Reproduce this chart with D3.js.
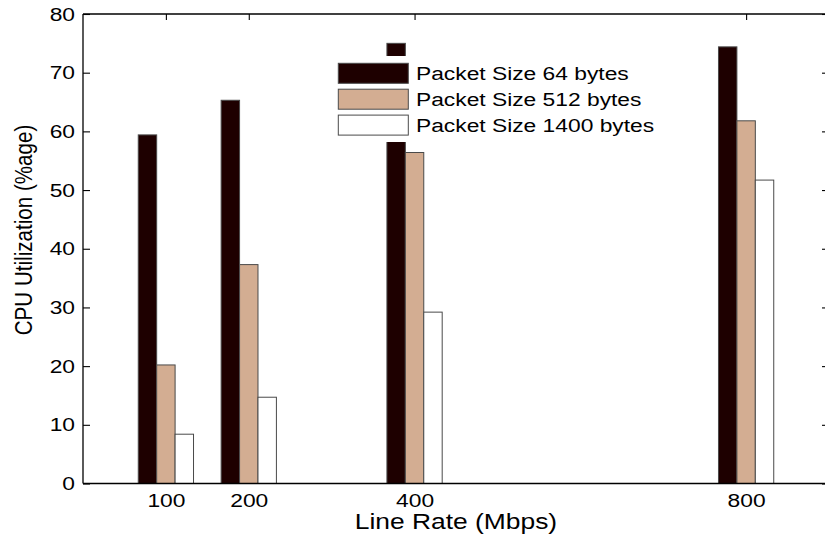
<!DOCTYPE html>
<html><head><meta charset="utf-8">
<script src="https://cdn.jsdelivr.net/npm/d3@7"></script>
<style>
body{margin:0;background:#fff}
svg{display:block}
text{font-family:"Liberation Sans",Arial,Helvetica,sans-serif;fill:#000}
</style>
</head><body>
<svg id="chart" width="825" height="539"></svg>
<script>
// ---- data ----
const lineRates = [100, 200, 400, 800];
const seriesNames = ["Packet Size 64 bytes", "Packet Size 512 bytes", "Packet Size 1400 bytes"];
const cpu64 = [59.4, 65.3, 75.0, 74.4];
const cpu512 = [20.2, 37.3, 56.4, 61.8];
const cpu1400 = [8.4, 14.7, 29.2, 51.7];
const yTickValues = [0, 10, 20, 30, 40, 50, 60, 70, 80];
const xTickValues = [100, 200, 400, 800];
const seriesColors = ["#1e0000", "#d3ad92", "#ffffff"];
const xTitle = "Line Rate (Mbps)";
const yTitle = "CPU Utilization (%age)";

const allSeries = [cpu64, cpu512, cpu1400];
const SX = 1.2; // horizontal glyph stretch seen in the reference

const svg = d3.select("#chart");
const pL = 83, pR = 829, pT = 14, pB = 483.5;

const x = d3.scaleLinear().domain([0, 900]).range([pL, pR]);
const y = d3.scaleLinear().domain([0, 80]).range([pB, pT]);

// grouped bar geometry (MATLAB style)
const spacing = 100;
const nb = allSeries.length;
const groupW = Math.min(0.8, nb / (nb + 1.5)) * spacing;
const barW = groupW / nb;

const fmt = d3.format("d");

// axes (ticks pointing inward)
const gL = svg.append("g").attr("transform", `translate(${pL},0)`)
  .call(d3.axisLeft(y).tickValues(yTickValues).tickSize(-7).tickPadding(8 / SX).tickFormat(fmt));
const gR = svg.append("g").attr("transform", `translate(${pR},0)`)
  .call(d3.axisRight(y).tickValues(yTickValues).tickSize(-7).tickFormat(""));
const gT = svg.append("g").attr("transform", `translate(0,${pT})`)
  .call(d3.axisTop(x).tickValues(xTickValues).tickSize(-6).tickFormat(""));

// bars
const barG = svg.append("g");
allSeries.forEach((vals, si) => {
  barG.selectAll(null).data(vals).enter().append("rect")
    .attr("x", (d, i) => x(lineRates[i] - groupW / 2 + si * barW))
    .attr("width", x(barW) - x(0))
    .attr("y", d => y(d))
    .attr("height", d => y(0) - y(d))
    .attr("fill", seriesColors[si])
    .attr("stroke", "#4a4a4a")
    .attr("stroke-width", 1);
});

const gB = svg.append("g").attr("transform", `translate(0,${pB})`)
  .call(d3.axisBottom(x).tickValues(xTickValues).tickSize(0).tickPadding(10).tickFormat(fmt));

[gL, gR, gT, gB].forEach(g => {
  g.select(".domain").attr("stroke", "#000").attr("stroke-width", 1.3);
  g.selectAll(".tick line").attr("stroke", "#000").attr("stroke-width", 1.1);
  g.selectAll(".tick text").attr("font-size", 19).attr("fill", "#000")
    .attr("font-family", '"Liberation Sans",Arial,sans-serif')
    .attr("transform", `scale(${SX},1)`);
});
gR.select(".domain").attr("d", `M0,${pT}V${pB}`);
gT.select(".domain").attr("d", `M${pL},0H${pR}`);
gL.select(".domain").attr("d", `M0,${pT}V${pB}`);
gB.select(".domain").attr("d", `M${pL},0H${pR}`);

// legend (white box, no visible border)
const lg = svg.append("g");
lg.append("rect").attr("x", 332).attr("y", 56).attr("width", 336).attr("height", 86)
  .attr("fill", "#fff").attr("stroke", "none");
seriesNames.forEach((name, i) => {
  const cy = 73.3 + i * 25.9;
  lg.append("rect").attr("x", 338.3).attr("y", cy - 10).attr("width", 70).attr("height", 20)
    .attr("fill", seriesColors[i]).attr("stroke", "#4a4a4a").attr("stroke-width", 1);
  lg.append("text").attr("transform", `translate(416,${cy + 6.8}) scale(${SX},1)`)
    .attr("font-size", 19).text(name);
});

// axis titles
svg.append("text").attr("transform", `translate(456,529.3) scale(${SX},1)`)
  .attr("text-anchor", "middle").attr("font-size", 22).text(xTitle);
svg.append("text").attr("transform", `translate(32,230) scale(${SX},1) rotate(-90)`)
  .attr("text-anchor", "middle").attr("font-size", 20.6).text(yTitle);
</script>
</body></html>
